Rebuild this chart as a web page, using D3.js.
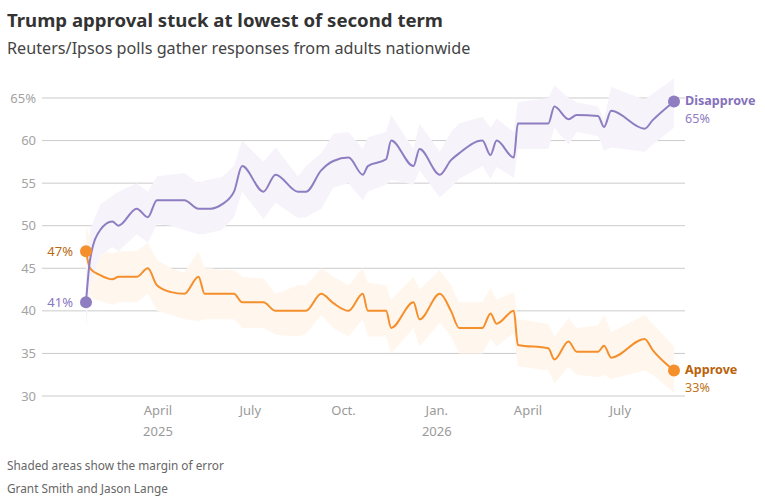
<!DOCTYPE html>
<html>
<head>
<meta charset="utf-8">
<script src="https://cdn.jsdelivr.net/npm/d3@7"></script>
<style>
  body { margin: 0; background: #fff; }
  svg { display: block; font-family: "Noto Sans", Lato, sans-serif; }
</style>
</head>
<body>
<svg id="chart" width="765" height="502"></svg>
<script>
// poll dates and toplines
const dates = [
  "2025-01-20","2025-01-24","2025-02-03","2025-02-15","2025-02-21","2025-03-11","2025-03-22","2025-03-31",
  "2025-04-14","2025-04-27","2025-05-11","2025-05-17","2025-05-23","2025-06-03","2025-06-15","2025-06-23",
  "2025-07-14","2025-07-26","2025-08-17","2025-08-25","2025-09-09","2025-09-21","2025-10-06","2025-10-20",
  "2025-10-25","2025-11-12","2025-11-17","2025-12-09","2025-12-15","2026-01-04","2026-01-15","2026-01-23",
  "2026-02-15","2026-02-23","2026-03-01","2026-03-18","2026-03-22","2026-04-21","2026-04-27","2026-05-11",
  "2026-05-19","2026-06-09","2026-06-15","2026-06-22","2026-07-25","2026-08-02","2026-08-23"
];
const disapprove = [
  41, 46, 49.5, 50.5, 50, 52, 51, 53,
  53, 53, 52, 52, 52, 52.5, 54, 57,
  54, 56, 54, 54, 56.5, 57.6, 58, 56,
  57, 57.8, 60, 57, 59, 56, 57.7, 58.5,
  60, 58.3, 60, 58, 62, 62, 64, 62.5,
  63, 62.9, 61.6, 63.5, 61.4, 62.4, 64.6
];
const approve = [
  47, 45, 44.2, 43.7, 44, 44, 45, 43,
  42.2, 42, 44, 42, 42, 42, 42, 41,
  41, 40, 40, 40, 42, 40.9, 40, 42,
  40, 40, 38, 41, 39, 42, 40, 38,
  38, 39.7, 38.5, 40, 36, 35.6, 34.3, 36.4,
  35.2, 35.2, 35.9, 34.5, 36.7, 35.4, 33
];
// margin of error bounds
const disapproveHigh = [
  44, 49.5, 52.5, 53.5, 54, 55, 54, 55.8,
  56, 56.2, 55, 55.3, 55.5, 55.7, 57, 60,
  57.5, 59.2, 55.8, 57, 58.5, 60.8, 61, 59,
  60.4, 61, 63, 59, 62, 58.7, 61, 62,
  62.8, 61.5, 62.6, 61, 64.5, 65, 66.5, 65,
  64.5, 64, 62.5, 66.3, 64.8, 65.5, 67.3
];
const disapproveLow = [
  38, 43, 46.5, 47.5, 47, 49, 48, 50.2,
  50, 49.5, 49, 49, 49.2, 49.5, 51, 54,
  50.8, 52.7, 50.9, 51, 52, 54.5, 55, 53,
  54, 54.8, 55.4, 54.8, 56.5, 53.3, 54.5, 55.5,
  57, 55.5, 56.9, 55.6, 59, 59, 61.5, 59.5,
  61, 60.5, 58.8, 59.2, 58.7, 59.5, 61.5
];
const approveHigh = [
  50, 48.5, 47.2, 46.7, 47, 47, 48, 46,
  45, 44.5, 47, 45, 45, 44.8, 44.8, 44,
  43.8, 42, 43, 43, 45, 44, 43, 45,
  43.3, 43, 41.3, 44, 42.5, 44.8, 43, 41,
  41, 42.7, 41.3, 42.2, 39, 38.5, 37, 39.1,
  38, 38.3, 39.5, 37.5, 39.5, 38.5, 35.8
];
const approveLow = [
  44, 41.5, 41.2, 40.7, 41, 41, 42, 40,
  39.5, 39, 38.8, 39, 39, 39, 39, 38,
  38, 37.2, 37, 37.3, 39.5, 38, 37, 39,
  37, 37, 35, 38, 35.8, 38.6, 37, 35,
  35, 36.7, 35.8, 37.4, 33.5, 33, 31.5, 33.4,
  32.5, 32.2, 32.5, 32, 33, 32.5, 30.4
];
const yTicks = [30, 35, 40, 45, 50, 55, 60, 65];
const monthNames = { 0: "Jan.", 3: "April", 6: "July", 9: "Oct." };

const parse = d3.timeParse("%Y-%m-%d");
const rows = dates.map((d, i) => ({
  date: parse(d),
  dis: disapprove[i], app: approve[i],
  disHi: disapproveHigh[i], disLo: disapproveLow[i],
  appHi: approveHigh[i], appLo: approveLow[i]
}));

const purple = "#8f7dc2", orange = "#f58f2b";

const svg = d3.select("#chart");

const x = d3.scaleTime()
  .domain(d3.extent(rows, d => d.date))
  .range([86, 674]);
const y = d3.scaleLinear().domain([30, 65]).range([396, 98]);

// titles
svg.append("text").attr("x", 7).attr("y", 27)
  .attr("font-size", 18.6).attr("font-weight", 700).attr("fill", "#333")
  .text("Trump approval stuck at lowest of second term");
svg.append("text").attr("x", 7).attr("y", 54)
  .attr("font-size", 16.2).attr("fill", "#444")
  .text("Reuters/Ipsos polls gather responses from adults nationwide");

// grid + y labels
const grid = svg.append("g");
grid.selectAll("line").data(yTicks).enter().append("line")
  .attr("x1", 42).attr("x2", 685)
  .attr("y1", d => y(d)).attr("y2", d => y(d))
  .attr("stroke", "#cbcbcb").attr("stroke-width", 1);
grid.selectAll("text").data(yTicks).enter().append("text")
  .attr("x", 36).attr("y", d => y(d)).attr("dy", "0.35em")
  .attr("text-anchor", "end").attr("font-size", 13).attr("fill", "#a3a3a3")
  .text(d => d === 65 ? d + "%" : d);

// x axis labels
const xTicks = x.ticks(d3.timeMonth.every(3));
const xl = svg.append("g").selectAll("text").data(xTicks).enter().append("text")
  .attr("text-anchor", "middle").attr("font-size", 13).attr("fill", "#9a9a9a")
  .attr("transform", d => "translate(" + x(d) + ",415)");
xl.append("tspan").attr("x", 0).text(d => monthNames[d.getMonth()]);
xl.filter(d => d.getMonth() === 3 && d.getFullYear() === 2025 || d.getMonth() === 0)
  .append("tspan").attr("x", 0).attr("dy", 21).text(d => d.getFullYear());

// bands
const band = (hi, lo) => d3.area()
  .x(d => x(d.date)).y0(d => y(d[lo])).y1(d => y(d[hi]))
  .curve(d3.curveLinear);
svg.append("path").datum(rows).attr("d", band("appHi", "appLo"))
  .attr("fill", "#fff6ee");
svg.append("path").datum(rows).attr("d", band("disHi", "disLo"))
  .attr("fill", "#f6f3fa");

// lines
const line = key => d3.line().x(d => x(d.date)).y(d => y(d[key])).curve(d3.curveMonotoneX);
svg.append("path").datum(rows).attr("d", line("app"))
  .attr("fill", "none").attr("stroke", orange).attr("stroke-width", 2);
svg.append("path").datum(rows).attr("d", line("dis"))
  .attr("fill", "none").attr("stroke", purple).attr("stroke-width", 2);

// dots at both ends
const first = rows[0], last = rows[rows.length - 1];
[[first, "app", orange], [first, "dis", purple], [last, "app", orange], [last, "dis", purple]]
  .forEach(([d, k, c]) => {
    svg.append("circle").attr("cx", x(d.date)).attr("cy", y(d[k])).attr("r", 6).attr("fill", c);
  });

// start labels
svg.append("text").attr("x", 73).attr("y", y(first.app)).attr("dy", "0.35em")
  .attr("text-anchor", "end").attr("font-size", 13).attr("fill", "#b8690f")
  .text(first.app + "%");
svg.append("text").attr("x", 73).attr("y", y(first.dis)).attr("dy", "0.35em")
  .attr("text-anchor", "end").attr("font-size", 13).attr("fill", "#8a77bf")
  .text(first.dis + "%");

// end labels
const endLabel = (name, val, yy, c1, c2) => {
  svg.append("text").attr("x", 685).attr("y", yy - 0.5).attr("dy", "0.35em")
    .attr("font-size", 12.6).attr("font-weight", 700).attr("fill", c1).text(name);
  svg.append("text").attr("x", 685).attr("y", yy + 17).attr("dy", "0.35em")
    .attr("font-size", 12.6).attr("fill", c2).text(Math.round(val) + "%");
};
endLabel("Disapprove", last.dis, y(last.dis), "#8571bb", "#8f7dc2");
endLabel("Approve", last.app, y(last.app), "#b9620a", "#c07420");

// footer
svg.append("text").attr("x", 7).attr("y", 470).attr("font-size", 11.8).attr("fill", "#666")
  .text("Shaded areas show the margin of error");
svg.append("text").attr("x", 7).attr("y", 493).attr("font-size", 11.8).attr("fill", "#666")
  .text("Grant Smith and Jason Lange");
</script>
</body>
</html>
